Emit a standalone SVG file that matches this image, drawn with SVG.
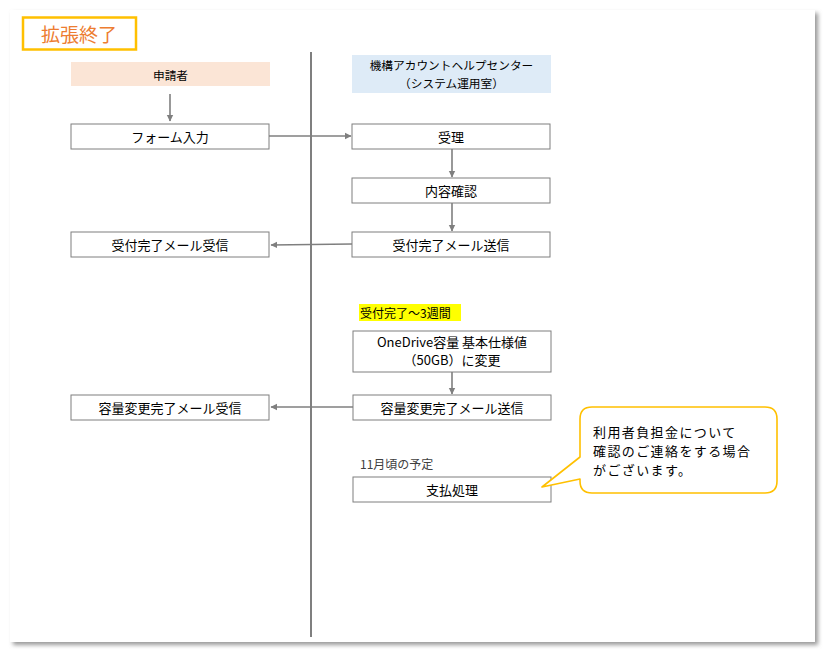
<svg xmlns="http://www.w3.org/2000/svg" width="830" height="654" viewBox="0 0 830 654">
<defs>
<style>
.box{fill:#fff;stroke:#7f7f7f;stroke-width:1}
.t{font-family:"Noto Sans CJK JP","Noto Sans",sans-serif;font-size:13px;fill:#000;text-anchor:middle;dominant-baseline:central}
.h{font-family:"Noto Sans CJK JP","Noto Sans",sans-serif;font-size:11.7px;fill:#000;text-anchor:middle;dominant-baseline:central}
.c{stroke:#7f7f7f;stroke-width:1.6;fill:none}
.ct{font-family:"Noto Sans CJK JP","Noto Sans",sans-serif;font-size:13px;letter-spacing:1.4px;fill:#000;dominant-baseline:central}
</style>
<marker id="ah" markerWidth="8" markerHeight="8" refX="6" refY="4" orient="auto" markerUnits="userSpaceOnUse">
<path d="M0,0.8 L6.5,4 L0,7.2 z" fill="#7f7f7f"/>
</marker>
<filter id="sh" x="-5%" y="-5%" width="110%" height="110%">
<feGaussianBlur stdDeviation="2"/>
</filter>
</defs>
<rect width="830" height="654" fill="#fff"/>
<rect x="13" y="13" width="805" height="632" fill="#999" filter="url(#sh)"/>
<rect x="10" y="10" width="805" height="632" fill="#fff"/>

<g id="title">
<rect x="23" y="17.5" width="113" height="32" fill="#fff" stroke="#ffc000" stroke-width="2.5"/>
<text x="79" y="33" font-family="'Noto Sans CJK JP',sans-serif" font-size="19" fill="#ed7d31" text-anchor="middle" dominant-baseline="central">拡張終了</text>
</g>

<g id="connectors">
<line x1="311" y1="52" x2="311" y2="637" stroke="#7f7f7f" stroke-width="2"/>
<line class="c" x1="170" y1="94" x2="170" y2="121" marker-end="url(#ah)"/>
<line class="c" x1="269" y1="136" x2="351" y2="136" marker-end="url(#ah)"/>
<line class="c" x1="452" y1="149" x2="452" y2="177" marker-end="url(#ah)"/>
<line class="c" x1="452" y1="203" x2="452" y2="231" marker-end="url(#ah)"/>
<line class="c" x1="352" y1="244" x2="271" y2="245" marker-end="url(#ah)"/>
<line class="c" x1="452" y1="372" x2="452" y2="394" marker-end="url(#ah)"/>
<line class="c" x1="353" y1="407" x2="271" y2="407" marker-end="url(#ah)"/>
</g>

<g id="applicant-header">
<rect x="71" y="62" width="199" height="24" fill="#fbe5d6"/>
<text class="h" x="170.5" y="74">申請者</text>
</g>
<g id="center-header">
<rect x="352" y="55" width="199" height="38" fill="#deebf7"/>
<text class="h" x="451.5" y="64.5">機構アカウントヘルプセンター</text>
<text class="h" x="451.5" y="82">（システム運用室）</text>
</g>

<g id="form-input">
<rect class="box" x="71" y="124" width="198" height="25"/>
<text class="t" x="170" y="136.5">フォーム入力</text>
</g>
<g id="accept">
<rect class="box" x="352" y="124" width="198" height="25"/>
<text class="t" x="451" y="136.5">受理</text>
</g>
<g id="check">
<rect class="box" x="352" y="178" width="198" height="25"/>
<text class="t" x="451" y="190.5">内容確認</text>
</g>
<g id="ack-send">
<rect class="box" x="352" y="232" width="198" height="25"/>
<text class="t" x="451" y="244.5">受付完了メール送信</text>
</g>
<g id="ack-recv">
<rect class="box" x="71" y="232" width="198" height="25"/>
<text class="t" x="170" y="244.5">受付完了メール受信</text>
</g>

<g id="period-label">
<rect x="359" y="304" width="102" height="17" fill="#ffff00"/>
<text x="360" y="312.5" font-family="'Noto Sans CJK JP',sans-serif" font-size="12" fill="#000" dominant-baseline="central">受付完了～3週間</text>
</g>

<g id="onedrive">
<rect class="box" x="353" y="331" width="198" height="41"/>
<text class="t" x="452" y="341.5">OneDrive容量 基本仕様値</text>
<text class="t" x="452" y="359.5">（50GB）に変更</text>
</g>
<g id="change-send">
<rect class="box" x="353" y="395" width="198" height="25"/>
<text class="t" x="452" y="407.5">容量変更完了メール送信</text>
</g>
<g id="change-recv">
<rect class="box" x="71" y="395" width="198" height="25"/>
<text class="t" x="170" y="407.5">容量変更完了メール受信</text>
</g>

<g id="schedule-label">
<text x="360" y="463" font-family="'Noto Sans CJK JP',sans-serif" font-size="12" fill="#404040" dominant-baseline="central">11月頃の予定</text>
</g>
<g id="payment">
<rect class="box" x="353" y="477" width="198" height="25"/>
<text class="t" x="452" y="489.5">支払処理</text>
</g>

<g id="callout">
<path d="M592,407 H765 Q777,407 777,419 V481 Q777,493 765,493 H592 Q580,493 580,481 V479 L542,487 L580,457 V419 Q580,407 592,407 Z" fill="#fff" stroke="#ffc000" stroke-width="1.6" stroke-linejoin="round"/>
<text class="ct" x="593" y="431">利用者負担金について</text>
<text class="ct" x="593" y="450">確認のご連絡をする場合</text>
<text class="ct" x="593" y="469">がございます。</text>
</g>
</svg>
